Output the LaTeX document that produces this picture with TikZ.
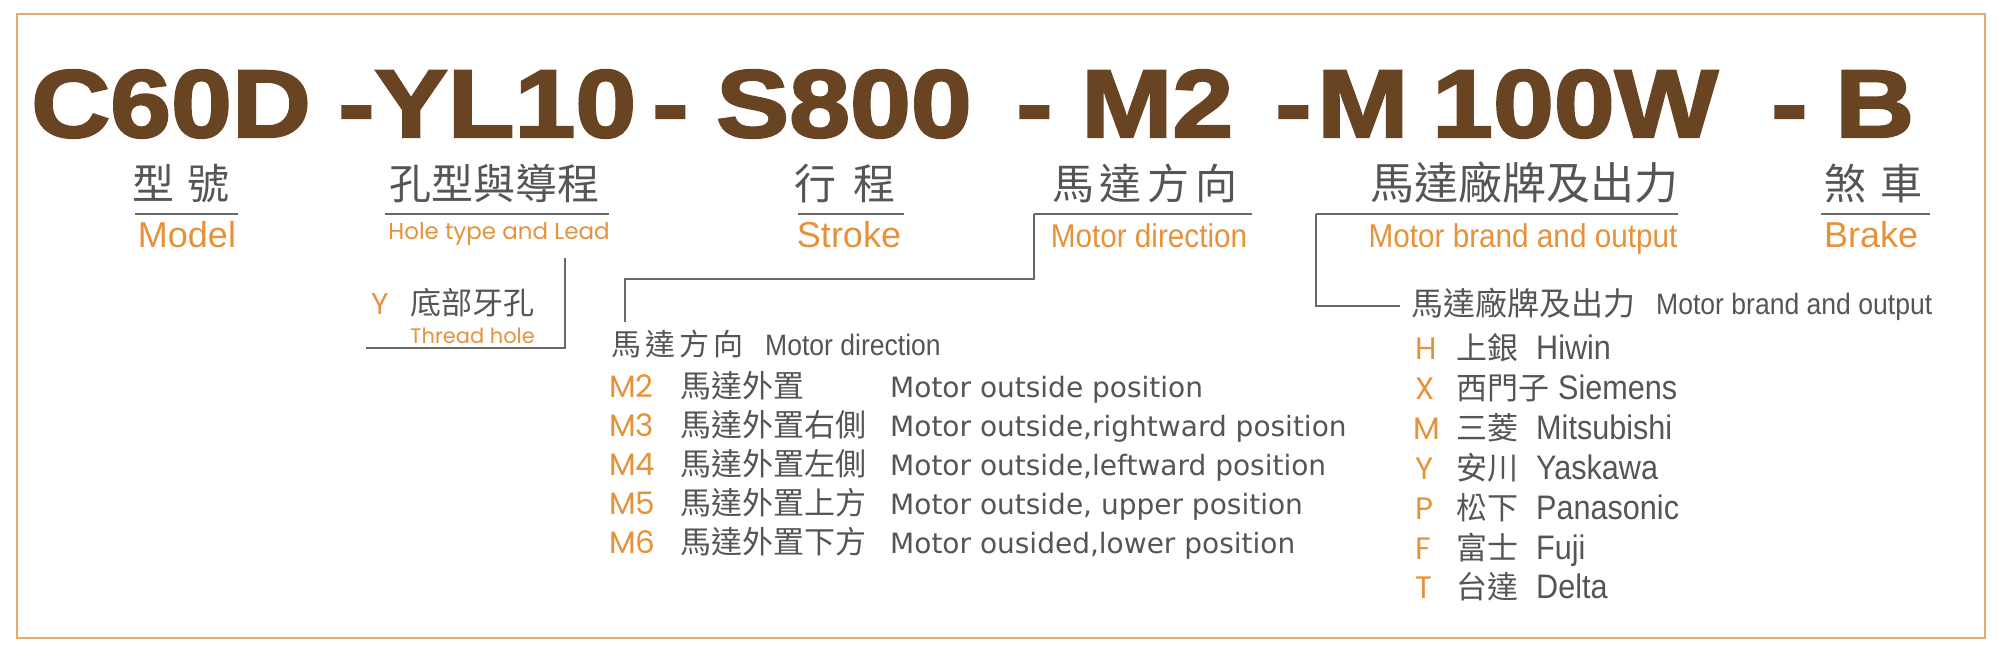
\documentclass[tikz,border=0pt]{standalone}
\usepackage{fontspec}
\setmainfont{Liberation Sans}
\newfontfamily\cjk{Noto Sans CJK TC}
\newfontfamily\titlefont{Liberation Sans}[FakeStretch=1.14,BoldFeatures={FakeBold=2.5}]
\newfontfamily\condfont{Liberation Sans}[FakeStretch=0.9]
\newfontfamily\geofont{Poppins}
\newfontfamily\listfont{DejaVu Sans}
\definecolor{titlebrown}{RGB}{104,68,34}
\definecolor{codeorange}{RGB}{230,146,58}
\definecolor{textgray}{RGB}{85,85,85}
\definecolor{linegray}{RGB}{105,105,105}
\definecolor{framecolor}{RGB}{230,172,105}

\begin{document}
\begin{tikzpicture}[x=1pt,y=-1pt,
  code part/.style={anchor=base west,inner sep=0pt,text=titlebrown,font=\titlefont\bfseries\fontsize{96}{96}\selectfont},
  cn head/.style={anchor=base,inner sep=0pt,text=textgray,font=\cjk\fontsize{42}{42}\selectfont},
  en head/.style={anchor=base,inner sep=0pt,text=codeorange,font=\fontsize{36}{36}\selectfont},
  en narrow/.style={anchor=base,inner sep=0pt,text=codeorange,font=\condfont\fontsize{33}{33}\selectfont},
  en geo/.style={anchor=base,inner sep=0pt,text=codeorange,font=\geofont\fontsize{23}{23}\selectfont},
  under line/.style={draw=linegray,line width=1.5pt},
  code letter/.style={anchor=base west,inner sep=0pt,text=codeorange,font=\geofont\fontsize{31}{31}\selectfont},
  cn item/.style={anchor=base west,inner sep=0pt,text=textgray,font=\cjk\fontsize{31}{31}\selectfont},
  en item/.style={anchor=base west,inner sep=0pt,text=textgray,font=\listfont\fontsize{28}{28}\selectfont},
  brand item/.style={anchor=base west,inner sep=0pt,text=textgray,font=\condfont\fontsize{34}{34}\selectfont},
  sub head/.style={anchor=base west,inner sep=0pt,text=textgray,font=\condfont\fontsize{29.5}{29.5}\selectfont}]

  \useasboundingbox (0,0) rectangle (2010,660);
  \draw[framecolor,line width=2pt] (17,14) rectangle (1985,638);

  % model code
  \node[code part] (c0) at (31,137) {C60D};
  \node[code part] (c1) at (338,137) {-YL10};
  \node[code part] (c2) at (652,137) {-};
  \node[code part] (c3) at (716,137) {S800};
  \node[code part] (c4) at (1016,137) {-};
  \node[code part] (c5) at (1081,137) {M2};
  \node[code part] (c6) at (1275,137) {-};
  \node[code part] (c7) at (1317,137) {M};
  \node[code part] (c8) at (1432,137) {100W};
  \node[code part] (c9) at (1771,137) {-};
  \node[code part] (c10) at (1835,137) {B};

  % headings
  \node[cn head] (h0) at (181,200) {型\hspace{13pt}號};
  \node[cn head] (h1) at (494,200) {孔型與導程};
  \node[cn head] (h2) at (845,200) {行\hspace{18pt}程};
  \node[cn head] (h3) at (1145,200) {馬\hspace{6pt}達\hspace{6pt}方\hspace{6pt}向};
  \node[cn head,font=\cjk\fontsize{44}{44}\selectfont] (h4) at (1524,200) {馬達廠牌及出力};
  \node[cn head] (h5) at (1873,200) {煞\hspace{14pt}車};

  \coordinate (u0a) at (135,214);
  \coordinate (u0b) at (238,214);
  \coordinate (u1a) at (385,214);
  \coordinate (u1b) at (609,214);
  \coordinate (u2a) at (798,214);
  \coordinate (u2b) at (904,214);
  \coordinate (u3a) at (1034,214);
  \coordinate (u3b) at (1252,214);
  \coordinate (u4a) at (1316,214);
  \coordinate (u4b) at (1678,214);
  \coordinate (u5a) at (1821,214);
  \coordinate (u5b) at (1930,214);
  \draw[under line] (u0a) -- (u0b);
  \draw[under line] (u1a) -- (u1b);
  \draw[under line] (u2a) -- (u2b);
  \draw[under line] (u3a) -- (u3b);
  \draw[under line] (u4a) -- (u4b);
  \draw[under line] (u5a) -- (u5b);

  \node[en head] (e0) at (187,248) {Model};
  \node[en geo] (e1) at (499,240) {Hole type and Lead};
  \node[en head] (e2) at (849,248) {Stroke};
  \node[en narrow] (e3) at (1149,248) {Motor direction};
  \node[en narrow] (e4) at (1523,248) {Motor brand and output};
  \node[en head] (e5) at (1871,248) {Brake};

  % hole type
  \coordinate (ytop) at (565,258);
  \coordinate (yend) at (366,348);
  \draw[under line] (ytop) |- (yend);
  \node[code letter,font=\geofont\fontsize{30}{30}\selectfont] (y0) at (371,315) {Y};
  \node[cn item] (y1) at (410,315) {底部牙孔};
  \node[anchor=base west,inner sep=0pt,text=codeorange,font=\geofont\fontsize{21}{21}\selectfont] (y2) at (410,343) {Thread hole};

  % motor direction
  \coordinate (dbend) at (625,279);
  \coordinate (dend) at (625,322);
  \draw[under line] (u3a) |- (dbend) -- (dend);
  \node[cn item,font=\cjk\fontsize{30}{30}\selectfont] (dh0) at (611,355) {馬\hspace{4pt}達\hspace{4pt}方\hspace{4pt}向};
  \node[sub head] (dh1) at (765,355) {Motor direction};

  \node[code letter] (dm0) at (609,397) {M2};
  \node[cn item] (dc0) at (680,397) {馬達外置};
  \node[en item] (de0) at (890,397) {Motor outside position};
  \node[code letter] (dm1) at (609,436) {M3};
  \node[cn item] (dc1) at (680,436) {馬達外置右側};
  \node[en item] (de1) at (890,436) {Motor outside,rightward position};
  \node[code letter] (dm2) at (609,475) {M4};
  \node[cn item] (dc2) at (680,475) {馬達外置左側};
  \node[en item] (de2) at (890,475) {Motor outside,leftward position};
  \node[code letter] (dm3) at (609,514) {M5};
  \node[cn item] (dc3) at (680,514) {馬達外置上方};
  \node[en item] (de3) at (890,514) {Motor outside, upper position};
  \node[code letter] (dm4) at (609,553) {M6};
  \node[cn item] (dc4) at (680,553) {馬達外置下方};
  \node[en item] (de4) at (890,553) {Motor ousided,lower position};

  % motor brand
  \coordinate (bend) at (1400,306);
  \draw[under line] (u4a) |- (bend);
  \node[cn item,font=\cjk\fontsize{32}{32}\selectfont] (bh0) at (1411,316) {馬達廠牌及出力};
  \node[sub head] (bh1) at (1656,315) {Motor brand and output};

  \node[code letter] (bm0) at (1415,359) {H};
  \node[cn item] (bc0) at (1456,359) {上銀};
  \node[brand item] (be0) at (1536,359) {Hiwin};
  \node[code letter] (bm1) at (1415,399) {X};
  \node[cn item] (bc1) at (1456,399) {西門子};
  \node[brand item] (be1) at (1558,399) {Siemens};
  \node[code letter] (bm2) at (1413,439) {M};
  \node[cn item] (bc2) at (1456,439) {三菱};
  \node[brand item] (be2) at (1536,439) {Mitsubishi};
  \node[code letter] (bm3) at (1415,479) {Y};
  \node[cn item] (bc3) at (1456,479) {安川};
  \node[brand item] (be3) at (1536,479) {Yaskawa};
  \node[code letter] (bm4) at (1415,519) {P};
  \node[cn item] (bc4) at (1456,519) {松下};
  \node[brand item] (be4) at (1536,519) {Panasonic};
  \node[code letter] (bm5) at (1415,559) {F};
  \node[cn item] (bc5) at (1456,559) {富士};
  \node[brand item] (be5) at (1536,559) {Fuji};
  \node[code letter] (bm6) at (1415,598) {T};
  \node[cn item] (bc6) at (1456,598) {台達};
  \node[brand item] (be6) at (1536,598) {Delta};
\end{tikzpicture}
\end{document}
